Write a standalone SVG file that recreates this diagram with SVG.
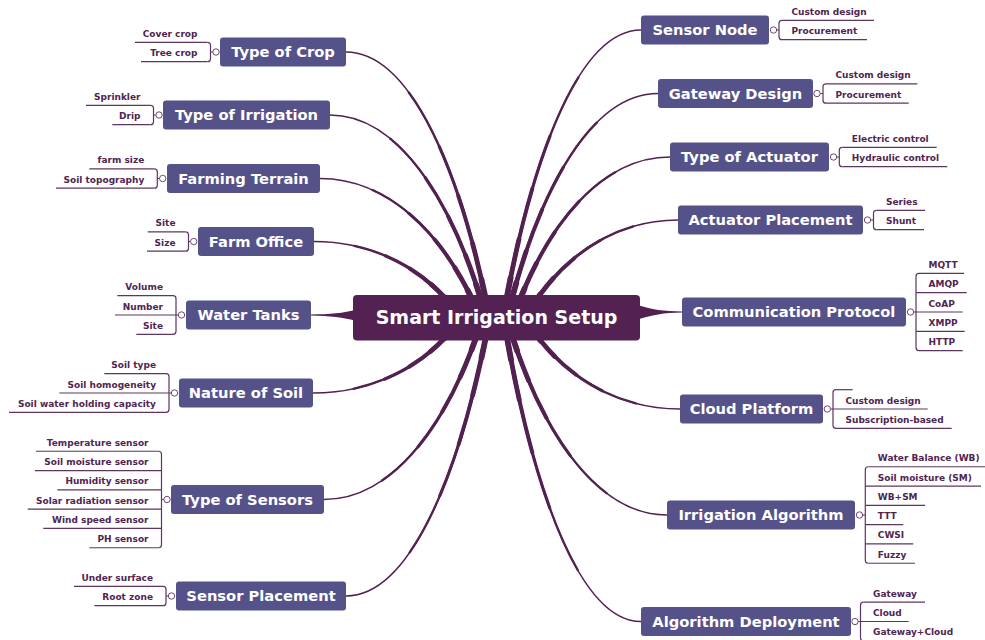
<svg xmlns="http://www.w3.org/2000/svg" xmlns:xlink="http://www.w3.org/1999/xlink" width="985" height="640" viewBox="0 0 985 640">
  <style>
    .cv { fill: none; stroke: #522150; stroke-linecap: round; }
    .t1 { stroke-width: 1.5; }
    .t2 { stroke-width: 2.3; stroke-dasharray: 75 200; }
    .t3 { stroke-width: 3.1; stroke-dasharray: 55 200; }
    .t4 { stroke-width: 3.9; stroke-dasharray: 38 200; }
    .t5 { stroke-width: 4.8; stroke-dasharray: 22 200; }
    .t6 { stroke-width: 5.8; stroke-dasharray: 10 200; }
    .wedge { fill: #522150; }
    .br { fill: none; stroke: #5e3560; stroke-width: 1.2; }
    .knob { fill: #fff; stroke: #6a4a6c; stroke-width: 1; }
    .topic rect { fill: #55528a; }
    .topic text { fill: #fff; font-family: 'DejaVu Sans', Verdana, sans-serif; font-weight: bold; font-size: 14.7px; text-anchor: middle; }
    .root rect { fill: #532252; }
    .root text { fill: #fff; font-family: 'DejaVu Sans', Verdana, sans-serif; font-weight: bold; font-size: 19px; text-anchor: middle; }
    .leaf text { fill: #502452; font-family: 'DejaVu Sans', Verdana, sans-serif; font-weight: bold; font-size: 9px; }
    .leaf line { stroke: #5e3560; stroke-width: 1.2; }
    .lt text { text-anchor: end; }
  </style>
  <defs>
    <path id="c-crop" pathLength="100" d="M488 310 C459.6 168.1 409.9 52 346 52"/>
    <path id="c-irr" pathLength="100" d="M484 310 C453.2 202.8 399.3 115 330 115"/>
    <path id="c-ter" pathLength="100" d="M477 310 C445.6 237.7 390.7 178.5 320 178.5"/>
    <path id="c-fo" pathLength="100" d="M455 310 C426.8 272.3 377.5 241.5 314 241.5"/>
    <path id="c-sn" pathLength="100" d="M504.5 310 C531.8 156 579.6 30 641 30"/>
    <path id="c-gw" pathLength="100" d="M509 310 C538.8 190.9 591 93.5 658 93.5"/>
    <path id="c-act" pathLength="100" d="M516 310 C546.8 225.9 600.7 157 670 157"/>
    <path id="c-ap" pathLength="100" d="M530 310 C559.6 260.5 611.4 220 678 220"/>
    <path id="c-nos" pathLength="100" d="M455 326 C426.6 362.9 376.9 393 313 393"/>
    <path id="c-sen" pathLength="100" d="M480 326 C448.8 421.4 394.2 499.5 324 499.5"/>
    <path id="c-sp" pathLength="100" d="M488 326 C459.6 474.5 409.9 596 346 596"/>
    <path id="c-ad" pathLength="100" d="M505 326 C532.2 488.5 579.8 621.5 641 621.5"/>
    <path id="c-ia" pathLength="100" d="M509 326 C540.6 430 595.9 515 667 515"/>
    <path id="c-cl" pathLength="100" d="M530 326 C560 371.7 612.5 409 680 409"/>
    <g id="all-curves">
      <use href="#c-crop"/><use href="#c-irr"/><use href="#c-ter"/><use href="#c-fo"/>
      <use href="#c-sn"/><use href="#c-gw"/><use href="#c-act"/><use href="#c-ap"/>
      <use href="#c-nos"/><use href="#c-sen"/><use href="#c-sp"/>
      <use href="#c-ad"/><use href="#c-ia"/><use href="#c-cl"/>
    </g>
  </defs>

  <rect width="985" height="640" fill="#fff"/>

  <!-- branch connectors: tapered curves built from stacked partial strokes -->
  <g id="connectors">
    <g class="cv">
      <use href="#all-curves" class="t1"/>
      <use href="#all-curves" class="t2"/>
      <use href="#all-curves" class="t3"/>
      <use href="#all-curves" class="t4"/>
      <use href="#all-curves" class="t5"/>
      <use href="#all-curves" class="t6"/>
    </g>
    <path class="wedge" d="M311 314.4 C330 314.4 343 313.2 357 309.5 L357 321 C343 317.6 330 315.8 311 315.6 Z"/>
    <path class="wedge" d="M682 311.4 C664 311.4 652 309.8 636 304.5 L636 320 C652 315 664 312.8 682 312.6 Z"/>

    <!-- sub-topic brackets, left side -->
    <path class="br" d="M207.5 42.35 Q210.5 42.35 210.5 45.35 V58.65 Q210.5 61.65 207.5 61.65 M210.5 52 H212.8"/>
    <path class="br" d="M150.5 105.35 Q153.5 105.35 153.5 108.35 V121.65 Q153.5 124.65 150.5 124.65 M153.5 115 H155.8"/>
    <path class="br" d="M154.3 168.85 Q157.3 168.85 157.3 171.85 V185.15 Q157.3 188.15 154.3 188.15 M157.3 178.5 H159.5"/>
    <path class="br" d="M185.5 231.85 Q188.5 231.85 188.5 234.85 V248.15 Q188.5 251.15 185.5 251.15 M188.5 241.5 H190.5"/>
    <path class="br" d="M173 295.7 Q176 295.7 176 298.7 V331.3 Q176 334.3 173 334.3 M176 315 H178.3"/>
    <path class="br" d="M166 373.7 Q169 373.7 169 376.7 V409.3 Q169 412.3 166 412.3 M169 393 H171.3"/>
    <path class="br" d="M158.5 451.25 Q161.5 451.25 161.5 454.25 V544.75 Q161.5 547.75 158.5 547.75 M161.5 499.5 H163.8"/>
    <path class="br" d="M163 586.35 Q166 586.35 166 589.35 V602.65 Q166 605.65 163 605.65 M166 596 H168.3"/>
    <!-- sub-topic brackets, right side -->
    <path class="br" d="M782 20.35 Q779 20.35 779 23.35 V36.65 Q779 39.65 782 39.65 M779 30 H776.7"/>
    <path class="br" d="M826 83.85 Q823 83.85 823 86.85 V100.15 Q823 103.15 826 103.15 M823 93.5 H820.2"/>
    <path class="br" d="M842.3 147.35 Q839.3 147.35 839.3 150.35 V163.65 Q839.3 166.65 842.3 166.65 M839.3 157 H836.7"/>
    <path class="br" d="M876.5 210.35 Q873.5 210.35 873.5 213.35 V226.65 Q873.5 229.65 876.5 229.65 M873.5 220 H870.7"/>
    <path class="br" d="M919 273.4 Q916 273.4 916 276.4 V347.6 Q916 350.6 919 350.6 M916 312 H913.7"/>
    <path class="br" d="M836 389.7 Q833 389.7 833 392.7 V425.3 Q833 428.3 836 428.3 M833 409 H830.5"/>
    <path class="br" d="M868.3 466.75 Q865.3 466.75 865.3 469.75 V560.25 Q865.3 563.25 868.3 563.25 M865.3 515 H862.7"/>
    <path class="br" d="M863.5 602.2 Q860.5 602.2 860.5 605.2 V637.8 Q860.5 640.8 863.5 640.8 M860.5 621.5 H858.2"/>

    <!-- collapse knobs -->
    <circle class="knob" cx="216" cy="52" r="3.2"/>
    <circle class="knob" cx="159" cy="115" r="3.2"/>
    <circle class="knob" cx="162.7" cy="178.5" r="3.2"/>
    <circle class="knob" cx="193.7" cy="241.5" r="3.2"/>
    <circle class="knob" cx="181.5" cy="315" r="3.2"/>
    <circle class="knob" cx="174.5" cy="393" r="3.2"/>
    <circle class="knob" cx="167" cy="499.5" r="3.2"/>
    <circle class="knob" cx="171.5" cy="596" r="3.2"/>
    <circle class="knob" cx="773.5" cy="30" r="3.2"/>
    <circle class="knob" cx="817" cy="93.5" r="3.2"/>
    <circle class="knob" cx="833.5" cy="157" r="3.2"/>
    <circle class="knob" cx="867.5" cy="220" r="3.2"/>
    <circle class="knob" cx="910.5" cy="312" r="3.2"/>
    <circle class="knob" cx="827.3" cy="409" r="3.2"/>
    <circle class="knob" cx="859.5" cy="515" r="3.2"/>
    <circle class="knob" cx="855" cy="621.5" r="3.2"/>
  </g>

  <!-- central topic -->
  <g id="root" class="root">
    <rect x="353" y="295" width="287" height="45.5" rx="4"/>
    <text x="496.5" y="324">Smart Irrigation Setup</text>
  </g>

  <!-- main topics, left -->
  <g id="type-of-crop" class="topic"><rect x="220" y="37.5" width="126" height="29" rx="3"/><text x="283" y="57.3">Type of Crop</text></g>
  <g id="type-of-irrigation" class="topic"><rect x="163" y="100.5" width="167" height="29" rx="3"/><text x="246.5" y="120.3">Type of Irrigation</text></g>
  <g id="farming-terrain" class="topic"><rect x="167" y="164" width="153" height="29" rx="3"/><text x="243.5" y="183.8">Farming Terrain</text></g>
  <g id="farm-office" class="topic"><rect x="198" y="227" width="116" height="29" rx="3"/><text x="256" y="246.8">Farm Office</text></g>
  <g id="water-tanks" class="topic"><rect x="186" y="300.5" width="125" height="29" rx="3"/><text x="248.5" y="320.3">Water Tanks</text></g>
  <g id="nature-of-soil" class="topic"><rect x="179" y="378.5" width="134" height="29" rx="3"/><text x="246" y="398.3">Nature of Soil</text></g>
  <g id="type-of-sensors" class="topic"><rect x="171" y="485" width="153" height="29" rx="3"/><text x="247.5" y="504.8">Type of Sensors</text></g>
  <g id="sensor-placement" class="topic"><rect x="176" y="581.5" width="170" height="29" rx="3"/><text x="261" y="601.3">Sensor Placement</text></g>

  <!-- main topics, right -->
  <g id="sensor-node" class="topic"><rect x="641" y="15.5" width="128" height="29" rx="3"/><text x="705" y="35.3">Sensor Node</text></g>
  <g id="gateway-design" class="topic"><rect x="658" y="79" width="155" height="29" rx="3"/><text x="735.5" y="98.8">Gateway Design</text></g>
  <g id="type-of-actuator" class="topic"><rect x="670" y="142.5" width="159" height="29" rx="3"/><text x="749.5" y="162.3">Type of Actuator</text></g>
  <g id="actuator-placement" class="topic"><rect x="678" y="205.5" width="185" height="29" rx="3"/><text x="770.5" y="225.3">Actuator Placement</text></g>
  <g id="communication-protocol" class="topic"><rect x="682" y="297.5" width="224" height="29" rx="3"/><text x="794" y="317.3">Communication Protocol</text></g>
  <g id="cloud-platform" class="topic"><rect x="680" y="394.5" width="143" height="29" rx="3"/><text x="751.5" y="414.3">Cloud Platform</text></g>
  <g id="irrigation-algorithm" class="topic"><rect x="667" y="500.5" width="188" height="29" rx="3"/><text x="761" y="520.3">Irrigation Algorithm</text></g>
  <g id="algorithm-deployment" class="topic"><rect x="641" y="607" width="210" height="29" rx="3"/><text x="746" y="626.8">Algorithm Deployment</text></g>

  <!-- sub-topics, left (underline style, right-aligned) -->
  <g class="leaf lt">
    <g id="cover-crop"><line x1="135" y1="42.35" x2="207.5" y2="42.35"/><text x="197.5" y="36.85">Cover crop</text></g>
    <g id="tree-crop"><line x1="141" y1="61.65" x2="207.5" y2="61.65"/><text x="197.5" y="56.15">Tree crop</text></g>

    <g id="sprinkler"><line x1="86" y1="105.35" x2="150.5" y2="105.35"/><text x="140.5" y="99.85">Sprinkler</text></g>
    <g id="drip"><line x1="112.3" y1="124.65" x2="150.5" y2="124.65"/><text x="140.5" y="119.15">Drip</text></g>

    <g id="farm-size"><line x1="89.3" y1="168.85" x2="154.3" y2="168.85"/><text x="144.3" y="163.35">farm size</text></g>
    <g id="soil-topography"><line x1="56" y1="188.15" x2="154.3" y2="188.15"/><text x="144.3" y="182.65">Soil topography</text></g>

    <g id="office-site"><line x1="147.7" y1="231.85" x2="185.5" y2="231.85"/><text x="175.5" y="226.35">Site</text></g>
    <g id="office-size"><line x1="147" y1="251.15" x2="185.5" y2="251.15"/><text x="175.5" y="245.65">Size</text></g>

    <g id="tank-volume"><line x1="117.3" y1="295.7" x2="173" y2="295.7"/><text x="163" y="290.2">Volume</text></g>
    <g id="tank-number"><line x1="115" y1="315" x2="176" y2="315"/><text x="163" y="309.5">Number</text></g>
    <g id="tank-site"><line x1="136.3" y1="334.3" x2="173" y2="334.3"/><text x="163" y="328.8">Site</text></g>

    <g id="soil-type"><line x1="104.3" y1="373.7" x2="166" y2="373.7"/><text x="156" y="368.2">Soil type</text></g>
    <g id="soil-homogeneity"><line x1="59.3" y1="393" x2="169" y2="393"/><text x="156" y="387.5">Soil homogeneity</text></g>
    <g id="soil-water-holding"><line x1="9" y1="412.3" x2="166" y2="412.3"/><text x="156" y="406.8">Soil water holding capacity</text></g>

    <g id="temperature-sensor"><line x1="36" y1="451.25" x2="158.5" y2="451.25"/><text x="148.5" y="445.75">Temperature sensor</text></g>
    <g id="soil-moisture-sensor"><line x1="35" y1="470.55" x2="161.5" y2="470.55"/><text x="148.5" y="465.05">Soil moisture sensor</text></g>
    <g id="humidity-sensor"><line x1="57.3" y1="489.85" x2="161.5" y2="489.85"/><text x="148.5" y="484.35">Humidity sensor</text></g>
    <g id="solar-radiation-sensor"><line x1="27.7" y1="509.15" x2="161.5" y2="509.15"/><text x="148.5" y="503.65">Solar radiation sensor</text></g>
    <g id="wind-speed-sensor"><line x1="43.3" y1="528.45" x2="161.5" y2="528.45"/><text x="148.5" y="522.95">Wind speed sensor</text></g>
    <g id="ph-sensor"><line x1="89.3" y1="547.75" x2="158.5" y2="547.75"/><text x="148.5" y="542.25">PH sensor</text></g>

    <g id="under-surface"><line x1="74" y1="586.35" x2="163" y2="586.35"/><text x="153" y="580.85">Under surface</text></g>
    <g id="root-zone"><line x1="94.3" y1="605.65" x2="163" y2="605.65"/><text x="153" y="600.15">Root zone</text></g>
  </g>

  <!-- sub-topics, right (underline style, left-aligned) -->
  <g class="leaf">
    <g id="node-custom"><line x1="782" y1="20.35" x2="874" y2="20.35"/><text x="791.5" y="14.85">Custom design</text></g>
    <g id="node-procurement"><line x1="782" y1="39.65" x2="867" y2="39.65"/><text x="791.5" y="34.15">Procurement</text></g>

    <g id="gateway-custom"><line x1="826" y1="83.85" x2="917.3" y2="83.85"/><text x="835.5" y="78.35">Custom design</text></g>
    <g id="gateway-procurement"><line x1="826" y1="103.15" x2="908.7" y2="103.15"/><text x="835.5" y="97.65">Procurement</text></g>

    <g id="electric-control"><line x1="842.3" y1="147.35" x2="936.7" y2="147.35"/><text x="851.8" y="141.85">Electric control</text></g>
    <g id="hydraulic-control"><line x1="842.3" y1="166.65" x2="947.3" y2="166.65"/><text x="851.8" y="161.15">Hydraulic control</text></g>

    <g id="series"><line x1="876.5" y1="210.35" x2="925" y2="210.35"/><text x="886" y="204.85">Series</text></g>
    <g id="shunt"><line x1="876.5" y1="229.65" x2="924" y2="229.65"/><text x="886" y="224.15">Shunt</text></g>

    <g id="mqtt"><line x1="919" y1="273.4" x2="964" y2="273.4"/><text x="928.5" y="267.9">MQTT</text></g>
    <g id="amqp"><line x1="916" y1="292.7" x2="966.7" y2="292.7"/><text x="928.5" y="287.2">AMQP</text></g>
    <g id="coap"><line x1="916" y1="312" x2="962.7" y2="312"/><text x="928.5" y="306.5">CoAP</text></g>
    <g id="xmpp"><line x1="916" y1="331.3" x2="964.7" y2="331.3"/><text x="928.5" y="325.8">XMPP</text></g>
    <g id="http"><line x1="919" y1="350.6" x2="962.7" y2="350.6"/><text x="928.5" y="345.1">HTTP</text></g>

    <g id="cloud-empty"><line x1="836" y1="389.7" x2="852.7" y2="389.7"/></g>
    <g id="cloud-custom"><line x1="833" y1="409" x2="927.7" y2="409"/><text x="845.5" y="403.5">Custom design</text></g>
    <g id="cloud-subscription"><line x1="836" y1="428.3" x2="951.7" y2="428.3"/><text x="845.5" y="422.8">Subscription-based</text></g>

    <g id="water-balance"><line x1="868.3" y1="466.75" x2="990" y2="466.75"/><text x="877.8" y="461.25">Water Balance (WB)</text></g>
    <g id="soil-moisture"><line x1="865.3" y1="486.05" x2="981" y2="486.05"/><text x="877.8" y="480.55">Soil moisture (SM)</text></g>
    <g id="wb-sm"><line x1="865.3" y1="505.35" x2="925" y2="505.35"/><text x="877.8" y="499.85">WB+SM</text></g>
    <g id="ttt"><line x1="865.3" y1="524.65" x2="903.3" y2="524.65"/><text x="877.8" y="519.15">TTT</text></g>
    <g id="cwsi"><line x1="865.3" y1="543.95" x2="913.3" y2="543.95"/><text x="877.8" y="538.45">CWSI</text></g>
    <g id="fuzzy"><line x1="868.3" y1="563.25" x2="915" y2="563.25"/><text x="877.8" y="557.75">Fuzzy</text></g>

    <g id="deploy-gateway"><line x1="863.5" y1="602.2" x2="925" y2="602.2"/><text x="873" y="596.7">Gateway</text></g>
    <g id="deploy-cloud"><line x1="860.5" y1="621.5" x2="908.7" y2="621.5"/><text x="873" y="616">Cloud</text></g>
    <g id="deploy-both"><line x1="863.5" y1="640.8" x2="965" y2="640.8"/><text x="873" y="635.3">Gateway+Cloud</text></g>
  </g>
</svg>
